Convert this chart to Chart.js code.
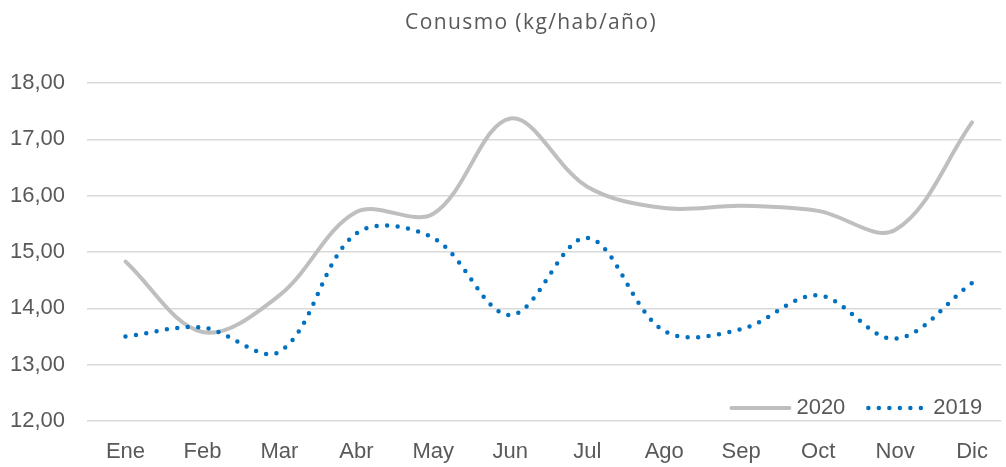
<!DOCTYPE html>
<html>
<head>
<meta charset="utf-8">
<script src="https://cdn.jsdelivr.net/npm/chart.js@4"></script>
<style>
  html, body { margin: 0; padding: 0; background: #fff; }
  #wrap { position: relative; width: 1006px; height: 467px; }
  #title {
    position: absolute; left: 56px; right: 0; top: 7px;
    text-align: center; font: 21px "Open Sans", sans-serif;
    letter-spacing: 1.4px; color: #595959;
  }
</style>
</head>
<body>
<div id="wrap">
  <div id="title">Conusmo (kg/hab/año)</div>
  <canvas id="chart" width="1006" height="467"></canvas>
</div>
<script>
// Data
const months = ['Ene', 'Feb', 'Mar', 'Abr', 'May', 'Jun', 'Jul', 'Ago', 'Sep', 'Oct', 'Nov', 'Dic'];
const consumo2020 = [14.83, 13.58, 14.23, 15.71, 15.68, 17.37, 16.16, 15.78, 15.82, 15.73, 15.39, 17.30];
const consumo2019 = [13.50, 13.66, 13.23, 15.33, 15.25, 13.88, 15.25, 13.60, 13.63, 14.23, 13.46, 14.45];
const yTicks = [12, 13, 14, 15, 16, 17, 18];

const FONT = '"Liberation Sans", Arial, sans-serif';
const toPoints = values => values.map((v, i) => ({ x: i, y: v }));

// Legend drawn inside the plot, bottom right
const insideLegend = {
  id: 'insideLegend',
  afterDraw(chart) {
    const { ctx, chartArea } = chart;
    const sample = 62, gapText = 5, gapItem = 21;
    ctx.save();
    ctx.font = '22px ' + FONT;
    ctx.textBaseline = 'middle';
    const items = chart.data.datasets.map(ds => ({ ds, w: ctx.measureText(ds.label).width }));
    const total = items.reduce((s, it) => s + sample + gapText + it.w, 0) + gapItem * (items.length - 1);
    let x = chartArea.right - 19 - total;
    const y = chartArea.bottom - 13;
    items.forEach(({ ds, w }) => {
      ctx.beginPath();
      ctx.strokeStyle = ds.borderColor;
      ctx.lineWidth = ds.borderWidth;
      ctx.lineCap = 'round';
      ctx.setLineDash(ds.borderDash || []);
      ctx.moveTo(x + 2, y);
      ctx.lineTo(x + sample - 2, y);
      ctx.stroke();
      ctx.setLineDash([]);
      ctx.fillStyle = '#595959';
      ctx.fillText(ds.label, x + sample + gapText, y);
      x += sample + gapText + w + gapItem;
    });
    ctx.restore();
  }
};

new Chart(document.getElementById('chart'), {
  type: 'line',
  data: {
    datasets: [
      {
        label: '2020',
        data: toPoints(consumo2020),
        borderColor: '#bfbfbf',
        borderWidth: 4,
        borderCapStyle: 'round',
        tension: 0.35,
        pointRadius: 0,
        order: 2
      },
      {
        label: '2019',
        data: toPoints(consumo2019),
        borderColor: '#0070c0',
        borderWidth: 4.5,
        borderDash: [0, 10.5],
        borderCapStyle: 'round',
        tension: 0.35,
        pointRadius: 0,
        order: 1
      }
    ]
  },
  options: {
    responsive: false,
    animation: false,
    layout: { padding: { top: 83, right: 2, left: 0, bottom: 0 } },
    plugins: {
      legend: { display: false },
      title: { display: false },
      tooltip: { enabled: false }
    },
    scales: {
      x: {
        type: 'linear',
        min: -0.5,
        max: 11.38,
        afterBuildTicks: axis => { axis.ticks = months.map((m, i) => ({ value: i })); },
        afterFit: axis => { axis.height = 46; },
        grid: { display: false, drawTicks: false },
        border: { display: false },
        ticks: {
          padding: 18,
          color: '#595959',
          font: { family: FONT, size: 22 },
          maxRotation: 0,
          autoSkip: false,
          callback: v => months[v]
        }
      },
      y: {
        min: 12,
        max: 18,
        afterBuildTicks: axis => { axis.ticks = yTicks.map(v => ({ value: v })); },
        afterFit: axis => { axis.width = 87; },
        grid: { color: '#d9d9d9', lineWidth: 1.5, drawTicks: false },
        border: { display: false },
        ticks: {
          padding: 22,
          color: '#595959',
          font: { family: FONT, size: 22 },
          callback: v => v.toFixed(2).replace('.', ',')
        }
      }
    }
  },
  plugins: [insideLegend]
});
</script>
</body>
</html>
